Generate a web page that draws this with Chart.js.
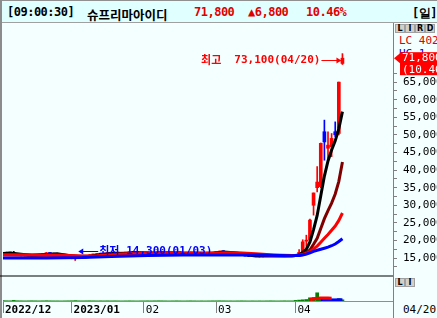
<!DOCTYPE html>
<html lang="ko">
<head>
<meta charset="utf-8">
<script src="https://cdn.jsdelivr.net/npm/chart.js@4.4.1/dist/chart.umd.min.js"></script>
<style>
body { margin: 0; background: #f4ffff; }
#marco { position: relative; width: 437px; height: 318px; overflow: hidden; background: #f4ffff; }
#grafico { position: absolute; left: 0; top: 0; z-index: 1; }
#cabecera { position: absolute; left: 0; top: 0; width: 437px; height: 23px; box-sizing: border-box; background: #e0ffff; border-top: 1px solid #909090; border-bottom: 1px solid #a0a0a0; }
#bordeIzq { position: absolute; left: 0; top: 0; width: 2px; height: 318px; background: #8c8c8c; }
.t { position: absolute; top: 5px; line-height: 15px; white-space: nowrap; font: bold 12px "DejaVu Sans Mono", monospace; letter-spacing: -0.5px; color: #000; }
.kr { font-family: "Noto Sans CJK KR", sans-serif; font-size: 12.5px; letter-spacing: 0; }
.rojo { color: #e00000; }
.btn { position: absolute; width: 10px; height: 9px; box-sizing: border-box; border: 1px solid #a0a0a0; background: #d4d0c8; font: bold 8px "DejaVu Sans", sans-serif; line-height: 7px; text-align: center; color: #000; }
.eje { position: absolute; white-space: nowrap; font: 11px "DejaVu Sans Mono", monospace; line-height: 12px; }
</style>
</head>
<body>
<div id="marco">
  <div class="eje" style="left:399px;top:48px;color:#0000ff">HC 1</div>
  <canvas id="grafico" width="437" height="318"></canvas>
  <div id="cabecera"></div>
  <div id="bordeIzq"></div>
  <span class="t" style="left:7px">[09:00:30]</span>
  <span class="t kr" style="left:87px">슈프리마아이디</span>
  <span class="t rojo" style="left:194px">71,800</span>
  <span class="t rojo" style="left:248px">▲6,800</span>
  <span class="t rojo" style="left:306px">10.46%</span>
  <span class="t" style="left:412px">[일]</span>

  <div class="btn" style="left:395px;top:24px">L</div>
  <div class="btn" style="left:405px;top:24px">I</div>
  <div class="btn" style="left:415px;top:24px">R</div>
  <div class="btn" style="left:425px;top:24px">D</div>
  <div class="eje" style="left:399px;top:35px;color:#e00000">LC 402</div>

  <div class="btn" style="left:395px;top:278px">L</div>
  <div class="btn" style="left:405px;top:278px">I</div>
  <div class="eje" style="left:403px;top:304px">04/20</div>
</div>

<script>
// eje x: indice de dia habil (2022/12/05 = 0), con hueco a la derecha
var meses = ['2022/12', '2023/01', '02', '03', '04'];
var inicioMes = [0, 19, 39, 59, 81];
var marcasPrecio = [12500, 15000, 17500, 20000, 22500, 25000, 27500, 30000, 32500, 35000, 37500, 40000, 42500, 45000, 47500, 50000, 52500, 55000, 57500, 60000, 62500, 65000, 67500];

var apertura = [
  16200, 16300, 16500, 16400, 16100, 15800, 15700, 15900, 15600, 15500, 15800, 16000, 16200, 16400, 16300, 16100, 15900, 15700, 15600,
  15300, 14800, 15100, 15200, 15400, 15600, 15900, 16000, 16200, 16100, 16300, 16500, 16400, 16600, 16300, 16400, 16500, 16700, 16600, 16400,
  16300, 16400, 16500, 16300, 16600, 16800, 16500, 16300, 16200, 16400, 16600, 16500, 16300, 16400, 16600, 16400, 16200, 16300, 16100, 16300,
  16500, 16700, 16900, 16800, 16600, 16400, 16200, 16000, 15800, 15600, 15500, 15700, 15600, 15400, 15500, 15600, 15700, 15600, 15500, 15600, 15700, 15600,
  15600, 15900, 16800, 19800, 20100, 30000, 35000, 35300, 50900, 46200, 46600, 50900, 50400, 70300
];
var maximo = [
  16600, 16700, 16600, 16900, 16200, 15900, 16000, 15900, 15700, 15900, 16100, 16300, 16600, 16500, 16400, 16200, 16000, 15800, 15700,
  15400, 15200, 15300, 15500, 15700, 16000, 16100, 16300, 16300, 16400, 16600, 16600, 16700, 16700, 16500, 16600, 16800, 16800, 16700, 16500,
  16500, 16600, 16600, 16700, 16900, 16900, 16600, 16400, 16500, 16700, 16700, 16600, 16500, 16700, 16700, 16500, 16400, 16400, 16400, 16600,
  16800, 17000, 17000, 16900, 16700, 16500, 16300, 16100, 15900, 15700, 15800, 15800, 15700, 15600, 15700, 15800, 15800, 15700, 15700, 15800, 15800, 15700,
  16000, 17400, 20200, 21500, 26100, 33500, 41000, 47700, 54200, 50900, 50400, 53700, 65000, 73100
];
var minimo = [
  16100, 16200, 16300, 16000, 15700, 15600, 15600, 15500, 15400, 15500, 15700, 15900, 16100, 16200, 16000, 15800, 15600, 15500, 15300,
  14800, 14300, 14900, 15100, 15300, 15500, 15800, 15900, 16000, 16000, 16200, 16300, 16300, 16200, 16200, 16300, 16400, 16500, 16300, 16200,
  16200, 16300, 16200, 16200, 16500, 16400, 16200, 16100, 16100, 16300, 16400, 16200, 16200, 16300, 16300, 16100, 16100, 16000, 16000, 16200,
  16400, 16600, 16700, 16500, 16300, 16100, 15900, 15700, 15500, 15400, 15400, 15500, 15300, 15300, 15400, 15500, 15500, 15400, 15400, 15500, 15500, 15400,
  15500, 15800, 16500, 18300, 20000, 27200, 33800, 35000, 42800, 43300, 43800, 49500, 50000, 70000
];
var cierre = [
  16300, 16500, 16400, 16100, 15800, 15700, 15900, 15600, 15500, 15800, 16000, 16200, 16400, 16300, 16100, 15900, 15700, 15600, 15400,
  14900, 15100, 15200, 15400, 15600, 15900, 16000, 16200, 16100, 16300, 16500, 16400, 16600, 16300, 16400, 16500, 16700, 16600, 16400, 16300,
  16400, 16500, 16300, 16600, 16800, 16500, 16300, 16200, 16400, 16600, 16500, 16300, 16400, 16600, 16400, 16200, 16300, 16100, 16300, 16500,
  16700, 16900, 16800, 16600, 16400, 16200, 16000, 15800, 15600, 15500, 15700, 15600, 15400, 15500, 15600, 15700, 15600, 15500, 15600, 15700, 15600, 15600,
  15900, 16600, 19600, 20100, 25800, 33500, 36600, 47600, 48000, 47100, 49000, 50000, 65000, 71800
];
// volumen en miles de acciones
var volumen = [
  30, 25, 20, 60, 25, 20, 15, 20, 25, 20, 15, 20, 30, 20, 15, 15, 10, 15, 20,
  25, 40, 20, 15, 20, 25, 20, 15, 20, 15, 20, 15, 20, 15, 10, 15, 20, 15, 10, 15,
  15, 20, 15, 20, 25, 20, 15, 10, 15, 20, 15, 10, 15, 20, 15, 10, 15, 10, 15, 20,
  20, 25, 20, 15, 15, 10, 15, 20, 15, 10, 15, 10, 15, 10, 15, 20, 15, 10, 15, 20, 15, 15,
  60, 90, 120, 150, 320, 350, 820, 260, 280, 200, 180, 160, 240, 120
];

// medias moviles: [dia, valor]
var ma5 = [[0,16300],[2,16400],[5,16100],[8,15700],[12,16000],[15,16200],[18,15700],[20,15200],[23,15300],[26,15800],[30,16300],[34,16400],[38,16500],[42,16400],[46,16500],[50,16400],[54,16400],[58,16300],[61,16700],[64,16500],[67,16000],[70,15600],[74,15600],[78,15600],[80,15650],[81,15700],[82,15900],[83,16600],[84,17500],[85,19600],[86,23100],[87,27100],[88,32700],[89,38300],[90,42600],[91,45700],[92,48300],[93,51800],[94,56600]];
var ma12 = [[0,16000],[8,15900],[16,15950],[21,15500],[26,15600],[32,16200],[40,16450],[48,16400],[56,16350],[62,16600],[68,16100],[74,15700],[80,15650],[81,15700],[82,15800],[83,16100],[84,16500],[85,17300],[86,18900],[87,20600],[88,23400],[89,26200],[90,28500],[91,30600],[92,33200],[93,36800],[94,42300]];
var ma20 = [[0,15900],[6,15900],[12,15800],[18,15750],[22,15600],[26,15650],[30,15900],[35,16200],[40,16400],[45,16450],[50,16400],[55,16400],[60,16400],[65,16500],[70,16200],[75,15900],[80,15700],[81,15750],[82,15800],[83,16000],[84,16300],[85,16800],[86,17600],[87,18400],[88,19500],[89,20600],[90,21700],[91,22900],[92,24100],[93,25700],[94,27800]];
var ma60 = [[0,15000],[12,15050],[22,15150],[30,15450],[40,15750],[50,15850],[60,15900],[70,15850],[80,15650],[81,15700],[82,15750],[83,15850],[84,16100],[85,16500],[86,16900],[87,17200],[88,17500],[89,17800],[90,18100],[91,18500],[92,19000],[93,19700],[94,20500]];
var volMa5 = [[85,150],[86,210],[87,270],[88,290],[89,300],[90,290],[91,270]];
var volMa20 = [[88,100],[91,110],[94,130]];

var diaMax = 94, precioMax = 73100;
var diaMin = 20, precioMin = 14300;
var precioActual = 71800, variacion = '(10.46';

var ROJO = '#ff0000', AZUL = '#0000ff';

function puntos(lista) {
  return lista.map(function(p) { return {x: p[0], y: p[1]}; });
}

function colorVela(c) {
  var i = c.dataIndex;
  return cierre[i] >= apertura[i] ? ROJO : AZUL;
}

var mechas = cierre.map(function(c, i) { return {x: i, y: [minimo[i], maximo[i]]}; });
var cuerpos = cierre.map(function(c, i) { return {x: i, y: [apertura[i], cierre[i]]}; });
var barrasVol = volumen.map(function(v, i) { return {x: i, y: v}; });

function linea(datos, color, orden, eje) {
  return {
    type: 'line', data: puntos(datos), borderColor: color, borderWidth: 3,
    pointRadius: 0, tension: 0, order: orden, yAxisID: eje || 'y', borderCapStyle: 'butt'
  };
}

var extras = {
  id: 'extras',
  afterDraw: function(chart) {
    var ctx = chart.ctx, x = chart.scales.x, y = chart.scales.y, a = chart.chartArea;
    ctx.save();
    // separador de paneles y eje derecho
    ctx.fillStyle = '#000000';
    ctx.fillRect(0, Math.round(y.bottom) - 0.5, a.right, 1);
    ctx.fillStyle = '#808080';
    ctx.fillRect(Math.round(a.right), 23, 1, 318 - 23);

    ctx.textBaseline = 'middle';
    // maximo
    var hx = x.getPixelForValue(diaMax), hy = y.getPixelForValue(precioMax) + 6.5;
    ctx.strokeStyle = ROJO; ctx.fillStyle = ROJO; ctx.lineWidth = 1;
    ctx.beginPath(); ctx.moveTo(hx - 21, Math.round(hy) + 0.5); ctx.lineTo(hx - 2, Math.round(hy) + 0.5); ctx.stroke();
    ctx.beginPath(); ctx.moveTo(hx - 1, Math.round(hy) + 0.5); ctx.lineTo(hx - 6, Math.round(hy) - 2.5); ctx.lineTo(hx - 6, Math.round(hy) + 3.5); ctx.fill();
    ctx.font = 'bold 11px "DejaVu Sans Mono"';
    ctx.textAlign = 'right';
    var txt = '73,100(04/20)';
    ctx.fillText(txt, hx - 22, hy);
    var w = ctx.measureText(txt).width;
    ctx.font = 'bold 11px "Noto Sans CJK KR"';
    ctx.fillText('최고', hx - 22 - w - 13, hy);

    // minimo
    var lx = x.getPixelForValue(diaMin), ly = y.getPixelForValue(precioMin) - 9.5;
    ctx.strokeStyle = AZUL; ctx.fillStyle = AZUL;
    ctx.beginPath(); ctx.moveTo(lx + 4, Math.round(ly) + 0.5); ctx.lineTo(lx + 23, Math.round(ly) + 0.5); ctx.stroke();
    ctx.beginPath(); ctx.moveTo(lx + 3, Math.round(ly) + 0.5); ctx.lineTo(lx + 8, Math.round(ly) - 2.5); ctx.lineTo(lx + 8, Math.round(ly) + 3.5); ctx.fill();
    ctx.textAlign = 'left';
    ctx.font = 'bold 11px "Noto Sans CJK KR"';
    ctx.fillText('최저', lx + 24, ly);
    ctx.font = 'bold 11px "DejaVu Sans Mono"';
    ctx.fillText('14,300(01/03)', lx + 51, ly);

    // caja de precio actual
    var py = y.getPixelForValue(precioActual);
    ctx.fillStyle = ROJO;
    ctx.beginPath(); ctx.moveTo(a.right + 1, py); ctx.lineTo(a.right + 7, py - 5); ctx.lineTo(a.right + 7, py + 5); ctx.fill();
    ctx.fillRect(a.right + 7, py - 6, 50, 23);
    ctx.fillStyle = '#ffffff';
    ctx.font = '11px "DejaVu Sans Mono"';
    ctx.fillText(precioActual.toLocaleString('en-US'), a.right + 9, py);
    ctx.fillText(variacion, a.right + 9, py + 11.5);
    ctx.restore();
  }
};

var contexto = document.getElementById('grafico').getContext('2d');
var chart = new Chart(contexto, {
  type: 'line',
  data: {
    datasets: [
      linea(ma60, AZUL, 1),
      linea(ma20, ROJO, 2),
      linea(ma12, '#800000', 3),
      linea(ma5, '#000000', 4),
      { type: 'bar', data: cuerpos, backgroundColor: colorVela, barThickness: 3, minBarLength: 1, grouped: false, order: 6, yAxisID: 'y' },
      { type: 'bar', data: mechas, backgroundColor: colorVela, barThickness: 1, minBarLength: 1, grouped: false, order: 7, yAxisID: 'y' },
      linea(volMa5, ROJO, 8, 'yv'),
      linea(volMa20, AZUL, 9, 'yv'),
      { type: 'bar', data: barrasVol, backgroundColor: '#008000', barThickness: 3, grouped: false, order: 10, yAxisID: 'yv' }
    ]
  },
  options: {
    responsive: false,
    animation: false,
    events: [],
    layout: { padding: { top: 23, left: 3, right: 0, bottom: 0 } },
    plugins: { legend: { display: false }, tooltip: { enabled: false } },
    scales: {
      x: {
        type: 'linear', min: 0, max: 108, offset: false,
        afterBuildTicks: function(s) { s.ticks = inicioMes.map(function(v) { return {value: v}; }); },
        afterFit: function(s) { s.height = 17; },
        grid: { drawOnChartArea: false, tickLength: 12, color: '#808080', offset: false },
        border: { color: '#70a080' },
        ticks: {
          autoSkip: false, maxRotation: 0, align: 'start', labelOffset: 2, padding: -9, color: '#000000',
          font: function(c) { return { family: 'DejaVu Sans Mono', size: 11, weight: c.index < 2 ? 'bold' : 'normal' }; },
          callback: function(v, i) { return meses[i]; }
        }
      },
      y: {
        type: 'linear', position: 'right', stack: 'p', stackWeight: 253, min: 9900, max: 81800,
        afterBuildTicks: function(s) { s.ticks = marcasPrecio.map(function(v) { return {value: v}; }); },
        afterFit: function(s) { s.width = 44; },
        grid: { drawOnChartArea: false, tickLength: 4, color: '#808080' },
        border: { display: false },
        ticks: {
          autoSkip: false, padding: 6, color: '#000000',
          font: { family: 'DejaVu Sans Mono', size: 11 },
          callback: function(v) { return (v % 5000 === 0 && v >= 15000 && v <= 65000) ? v.toLocaleString('en-US') : ''; }
        }
      },
      yv: {
        type: 'linear', position: 'right', stack: 'p', stackWeight: 25, min: 0, max: 2500,
        afterFit: function(s) { s.width = 44; },
        grid: { display: false },
        border: { display: false },
        ticks: { display: false }
      }
    }
  },
  plugins: [extras]
});
</script>
</body>
</html>
